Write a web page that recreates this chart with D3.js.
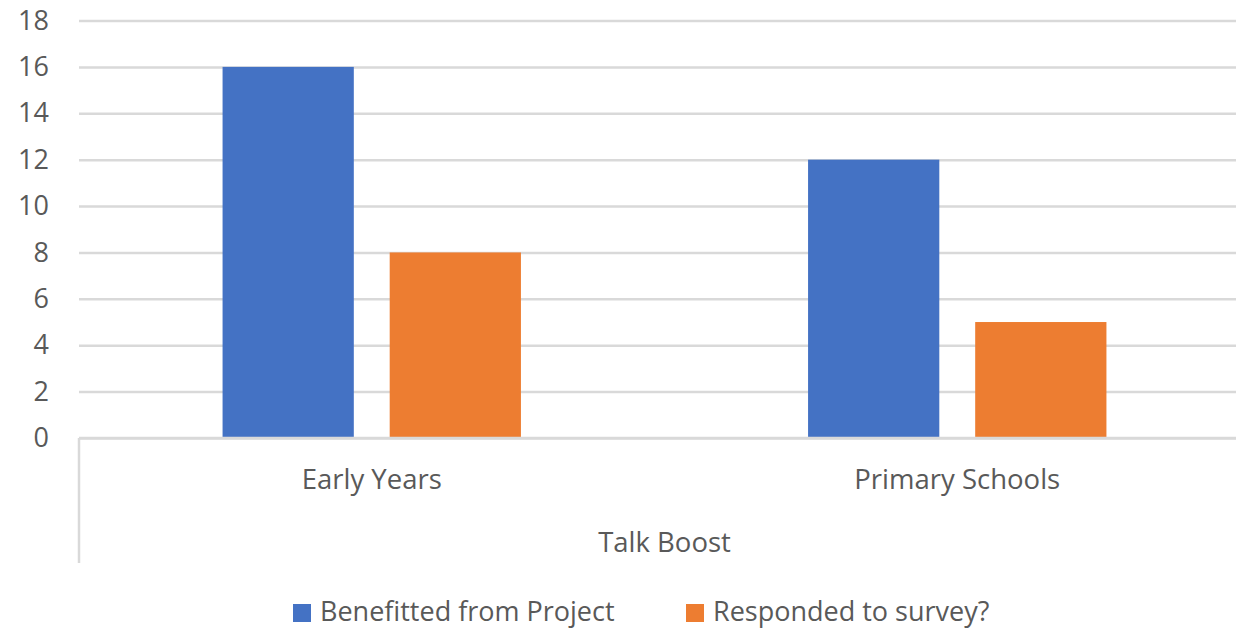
<!DOCTYPE html>
<html><head><meta charset="utf-8">
<script src="https://cdn.jsdelivr.net/npm/d3@7"></script>
<style>body{margin:0;background:#fff}svg{display:block}text{font-family:"Open Sans",sans-serif;fill:#595959}</style>
</head><body>
<svg id="c" width="1236" height="631"></svg>
<script>
const categories = ["Early Years", "Primary Schools"];
const groupLabel = "Talk Boost";
const seriesNames = ["Benefitted from Project", "Responded to survey?"];
const benefitted = [16, 12];
const responded = [8, 5];
const yTicks = [0, 2, 4, 6, 8, 10, 12, 14, 16, 18];
const colors = ["#4472C4", "#ED7D31"];

(function () {
const seriesValues = [benefitted, responded];
const svg = d3.select("#c");
const pLeft = 79, pRight = 1250, pTop = 20.5, pBottom = 438;
const y = d3.scaleLinear().domain([0, 18]).range([pBottom, pTop]);
const x0 = d3.scaleBand().domain(categories).range([pLeft, pRight]).padding(0);
const step = x0.bandwidth();
const x1 = d3.scaleBand().domain(seriesNames).range([step * 0.2452, step * 0.7548]).paddingInner(0.2147).paddingOuter(0);

// gridlines
const yAxis = d3.axisLeft(y).tickValues(yTicks).tickSize(-(pRight - pLeft)).tickPadding(30).tickFormat(d3.format("d"));
const gy = svg.append("g").attr("transform", `translate(${pLeft},0)`).call(yAxis);
gy.select(".domain").remove();
gy.selectAll(".tick line").attr("stroke", "#d9d9d9").attr("stroke-width", 2.5);
gy.selectAll(".tick text").attr("font-size", 27).attr("fill", "#595959").attr("x", -30).style("font-family", '"Open Sans",sans-serif');

// bars
seriesNames.forEach((s, si) => {
  svg.append("g").selectAll("rect").data(categories).join("rect")
    .attr("x", d => x0(d) + x1(s))
    .attr("width", x1.bandwidth())
    .attr("y", (d, i) => y(seriesValues[si][i]))
    .attr("height", (d, i) => y(0) - y(seriesValues[si][i]))
    .attr("fill", colors[si]);
});

// zero line + multi-level axis left border
svg.append("line").attr("x1", pLeft).attr("x2", pRight).attr("y1", y(0)).attr("y2", y(0)).attr("stroke", "#d9d9d9").attr("stroke-width", 2.5);
svg.append("line").attr("x1", pLeft).attr("x2", pLeft).attr("y1", y(0)).attr("y2", 563).attr("stroke", "#d9d9d9").attr("stroke-width", 2.5);

// category labels
svg.append("g").selectAll("text").data(categories).join("text")
  .attr("x", d => x0(d) + step / 2).attr("y", 489).attr("text-anchor", "middle").attr("font-size", 27.5).text(d => d);
svg.append("text").attr("x", (pLeft + pRight) / 2).attr("y", 551.5).attr("text-anchor", "middle").attr("font-size", 27.5).text(groupLabel);

// legend
const legendX = [293, 686];
const lg = svg.append("g");
seriesNames.forEach((s, i) => {
  lg.append("rect").attr("x", legendX[i]).attr("y", 604).attr("width", 18).attr("height", 18).attr("fill", colors[i]);
  lg.append("text").attr("x", legendX[i] + 27).attr("y", 621).attr("font-size", 27).text(s);
});
})();
</script>
</body></html>
